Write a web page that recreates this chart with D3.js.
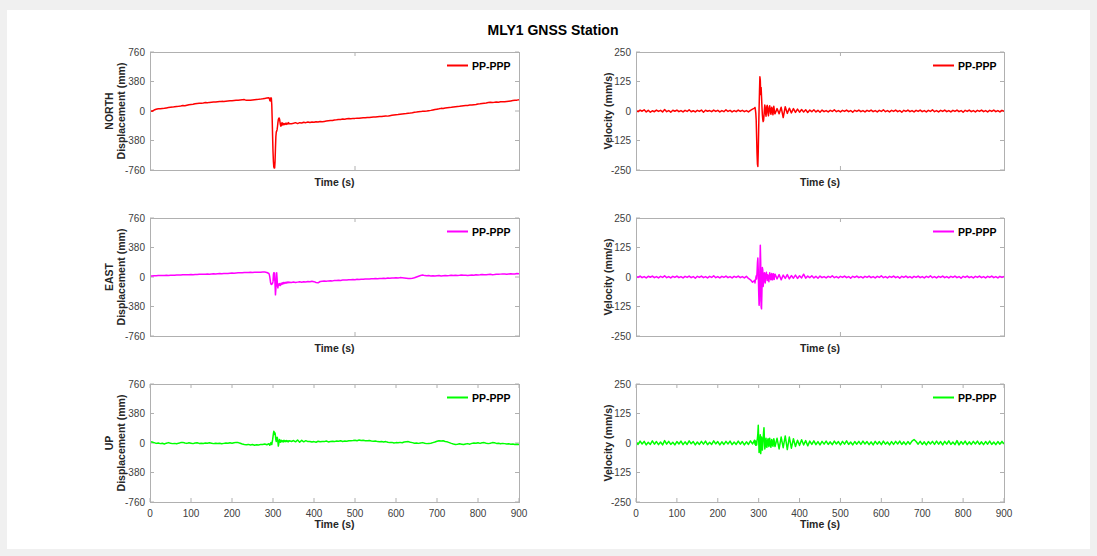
<!DOCTYPE html>
<html><head><meta charset="utf-8">
<script src="https://cdn.jsdelivr.net/npm/d3@7"></script>
<style>
html,body{margin:0;padding:0;background:#f0f0f0;}
svg{display:block;}
text{font-family:"Liberation Sans",Arial,Helvetica,sans-serif;}
</style></head><body>
<svg id="c" width="1097" height="556"></svg>
<script>
// ---------- DATA ----------
// sample times: pre 0..290 step 5, event 291..340 step 1, post 345..900 step 5
const title = "MLY1 GNSS Station";
const legendLabel = "PP-PPP";
const dispTicks = [-760, -380, 0, 380, 760];
const velTicks = [-250, -125, 0, 125, 250];
const timeTicks = [0, 100, 200, 300, 400, 500, 600, 700, 800, 900];
const timeTicksUpper = [500];
const rowNames = ["NORTH", "EAST", "UP"];
const rowColors = ["#ff0000", "#ff00ff", "#00ff00"];

// NORTH displacement (mm)
const northDispPre = [5,-3,12,22,28,30,33,36,40,44, 47,50,54,58,60,64,70,68,74,80, 84,88,93,97,99,101,104,108,107,111,
  114,116,115,119,122,124,123,127,130,132, 131,134,137,140,143,145,147,137,140,139, 142,145,148,150,153,157,162,166,170];
const northDispEvent = [165,140,128,150,170,165,80,-100,-320,-520, -650,-720,-735,-735,-650,-480,-330,-270,-260,-240,
  -200,-150,-110,-95,-90,-105,-140,-175,-195,-190, -165,-150,-160,-180,-175,-160,-165,-175,-170,-158,
  -162,-172,-168,-155,-160,-168,-165,-150,-158,-165];
const northDispPost = [-165,-158,-150,-162,-150,-155,-145,-150,-142,-148, -142,-146,-138,-142,-136,-138,-134,-130,-126,-122,
  -122,-115,-112,-108,-110,-104,-105,-100,-98,-99, -95,-95,-92,-94,-90,-88,-88,-84,-85,-80,
  -78,-78,-74,-70,-72,-68,-64,-66,-60,-56, -52,-48,-46,-42,-38,-35,-32,-28,-26,-22,
  -15,-14,-10,-8,-4,-2,0,4,8,14, 20,24,28,34,32,38,42,45,48,52, 55,58,60,64,68,70,72,76,78,82,
  85,90,92,96,100,104,110,112,110,112, 116,114,118,120,118,122,126,130,134,138, 140,145];

// EAST displacement (mm)
const eastDispPre = [12,14,16,15,18,20,18,20,22,20, 22,24,22,25,26,25,28,30,28,30, 32,30,33,32,35,36,34,37,38,36,
  40,42,40,43,44,42,45,46,44,47, 50,48,52,54,56,55,58,57,58,60, 58,60,62,60,62,64,63,58,45];
const eastDispEvent = [30,5,-30,-70,-90,-95,-85,-90,-80,-60, 30,55,-40,50,-100,-230,-150,-40,55,-20,
  -120,-140,-90,-110,-100,-85,-95,-110,-90,-80, -95,-85,-75,-90,-80,-70,-85,-78,-70,-80,
  -75,-68,-78,-72,-65,-75,-70,-64,-72,-68];
const eastDispPost = [-70,-65,-72,-66,-62,-68,-60,-64,-58,-62, -56,-60,-70,-75,-58,-55,-52,-54,-50,-48,
  -50,-45,-46,-42,-44,-40,-38,-40,-36,-35, -32,-34,-30,-32,-28,-30,-26,-25,-27,-22,
  -24,-20,-22,-18,-20,-16,-18,-14,-16,-12, -14,-10,-12,-8,-10,-12,-15,-18,-20,-16,
  -10,0,10,20,25,18,15,18,14,16, 12,15,18,14,17,20,16,18,22,20, 24,20,22,25,22,24,20,23,26,24,
  28,25,28,32,30,28,32,35,30,32, 35,34,37,40,38,36,40,42,38,40, 44,42];

// UP displacement (mm)
const upDispPre = [15,12,5,-5,0,-8,-3,-12,-2,5, -3,-8,-5,-10,-2,5,8,0,-5,2, -3,-8,0,3,-5,-2,-6,0,-4,2,
  -3,-8,-2,-6,-3,-10,-5,0,-4,2, -2,3,8,5,-3,-12,-18,-22,-18,-25, -20,-28,-22,-25,-18,-20,-14,-22,-10];
const upDispEvent = [-15,-30,-20,-5,5,-10,-20,10,40,80, 120,150,140,110,130,90,40,20,50,75,
  60,10,-40,-10,30,45,30,10,20,35, 25,15,30,22,15,28,35,20,25,30, 18,25,32,20,28,22,15,28,24,30];
const upDispPost = [20,32,15,38,10,35,15,30,18,20, 12,18,10,22,15,20,18,25,14,20, 22,18,25,22,28,20,25,22,28,30,
  32,35,30,38,32,35,30,28,32,25, 22,25,18,15,20,12,18,10,5,8, 0,5,2,8,3,12,15,18,10,5,
  -2,0,-5,0,5,-3,-8,-5,-2,5, 12,22,30,25,28,20,15,5,-5,-12, -18,-15,-10,-15,-20,-12,-8,-15,-5,0,
  -3,2,-5,3,5,-2,-8,-3,5,2, -5,-3,-10,-5,-8,-12,-10,-15,-12,-18, -15,-20];

// NORTH velocity (mm/s)
const northVelPre = [2,-3,4,-1,5,-4,3,-5,1,-3, 4,-2,3,-4,6,-3,2,-5,3,-1, 4,-3,2,-4,3,-2,5,-3,1,-4,
  3,-2,4,-5,3,-1,2,-3,4,-2, 3,-4,2,-3,5,-2,3,-4,2,-3, 4,-2,3,-3,2,-4,3,8,12];
const northVelEvent = [15,5,-10,-40,-110,-180,-225,-235,-170,-80, 10,80,145,130,70,100,60,20,-15,-35,
  -45,-40,-20,5,25,15,-10,-22,-5,20, 24,10,-12,-20,2,18,22,8,-10,-14, 6,16,10,-8,-16,4,20,8,-8,-12];
const northVelPost = [10,-12,16,-28,18,-10,12,-8,10,-6, 8,-5,6,-4,5,-6,4,-3,5,-4, 3,-5,4,-3,2,-4,3,-2,5,-3,
  2,-4,3,-2,4,-3,2,-5,3,-2, 4,-3,2,-4,3,-2,4,-3,2,-4, 3,-2,5,-3,2,-4,3,-2,4,-3,
  2,-5,3,-2,4,-3,2,-4,3,-2, 4,-3,2,-4,3,-2,5,-3,2,-4, 3,-2,4,-3,2,-4,3,-2,4,-3,
  2,-5,3,-2,4,-3,2,-4,3,-2, 4,-3,2,-4,3,-2,4,-3,2,-4, 3,-2];

// EAST velocity (mm/s)
const eastVelPre = [3,-2,4,-3,2,-4,3,-1,4,-3, 2,-4,3,-2,5,-3,2,-4,3,-2, 4,-3,2,-4,3,-2,4,-3,2,-5,
  3,-2,4,-3,2,-4,3,-2,5,-3, 2,-4,3,-2,4,-3,2,-4,3,-2, 4,-3,2,-4,3,-6,-12,-22,-15];
const eastVelEvent = [-25,-12,-5,5,-8,20,60,80,30,-60, -120,-100,40,135,60,-125,-135,-60,40,30,
  -40,-20,10,18,-10,-25,5,15,20,-5, -15,10,5,-10,-20,5,18,10,-8,-12, 8,15,-5,-12,10,14,-5,-10,8,12];
const eastVelPost = [-8,10,-12,8,-6,10,-8,6,-5,8, -6,5,-4,12,-5,4,-3,5,-4,3, -5,4,-3,2,-4,3,-2,5,-3,2,
  -4,3,-2,4,-3,2,-5,3,-2,4, -3,2,-4,3,-2,4,-3,2,-4,3, -2,5,-3,2,-4,3,-2,4,-3,2,
  -5,3,-2,4,-3,2,-4,3,-2,4, -3,2,-4,3,-2,5,-3,2,-4,3, -2,4,-3,2,-4,3,-2,4,-3,2,
  -5,3,-2,4,-3,2,-4,3,-2,4, -3,2,-4,3,-2,4,-3,2,-4,3, -2,3];

// UP velocity (mm/s)
const upVelPre = [5,-6,8,-4,7,-8,3,-6,9,-5, 6,-7,4,-8,10,-5,7,-6,3,-8, 6,-4,8,-7,5,-6,9,-3,6,-8,
  4,-6,7,-5,8,-7,3,-6,9,-4, 6,-8,5,-6,7,-4,8,-7,4,-6, 8,-5,6,-8,5,-6,9,-4,12];
const upVelEvent = [-5,8,-10,6,-8,10,20,40,75,20, -40,-35,10,35,-45,-20,25,10,-30,-10,
  20,45,65,20,-25,-15,10,20,-10,-18, -8,12,18,-5,-15,10,20,5,-12,-18, 5,15,8,-10,-14,6,18,10,-8,-15];
const upVelPost = [20,-25,25,-20,30,-28,25,-22,18,-15, 12,-10,14,-8,10,-12,8,-6,9,-7, 6,-8,7,-5,8,-6,5,-7,8,-4,
  6,-8,7,-5,9,-6,4,-8,6,-5, 7,-6,8,-4,6,-7,5,-8,7,-5, 6,-7,8,-5,4,-8,6,-6,7,-4,
  8,-6,5,-7,6,-5,8,15,6,-5, 7,-6,5,-8,6,-4,7,-6,8,-5, 6,-8,7,-5,9,-6,4,-7,10,-8,
  6,-5,8,-7,5,-6,7,-4,8,-6, 5,-7,6,-5,8,-6,4,-7,6,-5, 7,-4];

// ---------- BUILD ----------
function series(pre, evt, post) {
  const pts = [];
  pre.forEach((v, i) => pts.push([i * 5, v]));
  evt.forEach((v, i) => pts.push([291 + i, v]));
  post.forEach((v, i) => pts.push([345 + i * 5, v]));
  return pts;
}
const dispSeries = [
  series(northDispPre, northDispEvent, northDispPost),
  series(eastDispPre, eastDispEvent, eastDispPost),
  series(upDispPre, upDispEvent, upDispPost)
];
const velSeries = [
  series(northVelPre, northVelEvent, northVelPost),
  series(eastVelPre, eastVelEvent, eastVelPost),
  series(upVelPre, upVelEvent, upVelPost)
];

const svg = d3.select("#c");
svg.append("rect").attr("x", 7).attr("y", 10).attr("width", 1083).attr("height", 539).attr("fill", "#fff");

svg.append("text").attr("x", 553).attr("y", 35).attr("text-anchor", "middle")
  .attr("font-size", 14).attr("font-weight", "bold").attr("fill", "#000").text(title);

const rowTops = [52, 218, 384];
const panelH = 118;
const cols = [{x0: 150, x1: 519}, {x0: 636, x1: 1004}];
const axisCol = "#b0b0b0";
const tickTextCol = "#404040";

function panel(col, row, data, yTicks, isVel) {
  const top = rowTops[row], bot = top + panelH;
  const x = d3.scaleLinear().domain([0, 900]).range([col.x0, col.x1]);
  const y = d3.scaleLinear().domain([yTicks[0], yTicks[yTicks.length - 1]]).range([bot, top]);
  const g = svg.append("g");
  const xt = row === 2 ? timeTicks : timeTicksUpper;

  // ticks
  const tl = 4;
  yTicks.forEach(v => {
    g.append("line").attr("x1", col.x0).attr("x2", col.x0 + tl).attr("y1", y(v)).attr("y2", y(v)).attr("stroke", axisCol);
    g.append("line").attr("x1", col.x1).attr("x2", col.x1 - tl).attr("y1", y(v)).attr("y2", y(v)).attr("stroke", axisCol);
    g.append("text").attr("x", col.x0 - 5).attr("y", y(v) + 3.5).attr("text-anchor", "end")
      .attr("font-size", 10).attr("fill", tickTextCol).text(v);
  });
  xt.forEach(v => {
    g.append("line").attr("x1", x(v)).attr("x2", x(v)).attr("y1", bot).attr("y2", bot - tl).attr("stroke", axisCol);
    g.append("line").attr("x1", x(v)).attr("x2", x(v)).attr("y1", top).attr("y2", top + tl).attr("stroke", axisCol);
    if (row === 2) {
      g.append("text").attr("x", x(v)).attr("y", bot + 15).attr("text-anchor", "middle")
        .attr("font-size", 10).attr("fill", tickTextCol).text(v);
    }
  });

  // clip + line
  const cid = "clip" + row + (isVel ? "v" : "d");
  svg.append("clipPath").attr("id", cid).append("rect")
    .attr("x", col.x0).attr("y", top).attr("width", col.x1 - col.x0).attr("height", panelH);
  g.append("path").datum(data).attr("clip-path", "url(#" + cid + ")")
    .attr("fill", "none").attr("stroke", rowColors[row]).attr("stroke-width", 1.5)
    .attr("stroke-linejoin", "round")
    .attr("d", d3.line().x(d => x(d[0])).y(d => y(d[1])));

  // box
  g.append("rect").attr("x", col.x0 + 0.5).attr("y", top + 0.5).attr("width", col.x1 - col.x0)
    .attr("height", panelH).attr("fill", "none").attr("stroke", axisCol);

  // legend
  const lx = col.x1 - (isVel ? 71 : 72);
  const ly = top + 13.5;
  g.append("line").attr("x1", lx).attr("x2", lx + 21).attr("y1", ly).attr("y2", ly)
    .attr("stroke", rowColors[row]).attr("stroke-width", 2);
  g.append("text").attr("x", lx + 25).attr("y", ly + 4).attr("font-size", 10.5)
    .attr("font-weight", "bold").attr("fill", "#000").text(legendLabel);

  // x label
  g.append("text").attr("x", (col.x0 + col.x1) / 2).attr("y", row === 2 ? bot + 26 : bot + 16)
    .attr("text-anchor", "middle").attr("font-size", 10.5).attr("font-weight", "bold")
    .attr("fill", "#262626").text("Time (s)");

  // y label
  const cy = (top + bot) / 2;
  if (isVel) {
    g.append("text").attr("transform", `translate(${col.x0 - 24},${cy}) rotate(-90)`)
      .attr("text-anchor", "middle").attr("font-size", 10.5).attr("font-weight", "bold")
      .attr("fill", "#262626").text("Velocity (mm/s)");
  } else {
    g.append("text").attr("transform", `translate(${col.x0 - 37},${cy}) rotate(-90)`)
      .attr("text-anchor", "middle").attr("font-size", 10.5).attr("font-weight", "bold")
      .attr("fill", "#262626").text(rowNames[row]);
    g.append("text").attr("transform", `translate(${col.x0 - 25},${cy}) rotate(-90)`)
      .attr("text-anchor", "middle").attr("font-size", 10.5).attr("font-weight", "bold")
      .attr("fill", "#262626").text("Displacement (mm)");
  }
}

for (let r = 0; r < 3; r++) {
  panel(cols[0], r, dispSeries[r], dispTicks, false);
  panel(cols[1], r, velSeries[r], velTicks, true);
}
</script>
</body></html>
